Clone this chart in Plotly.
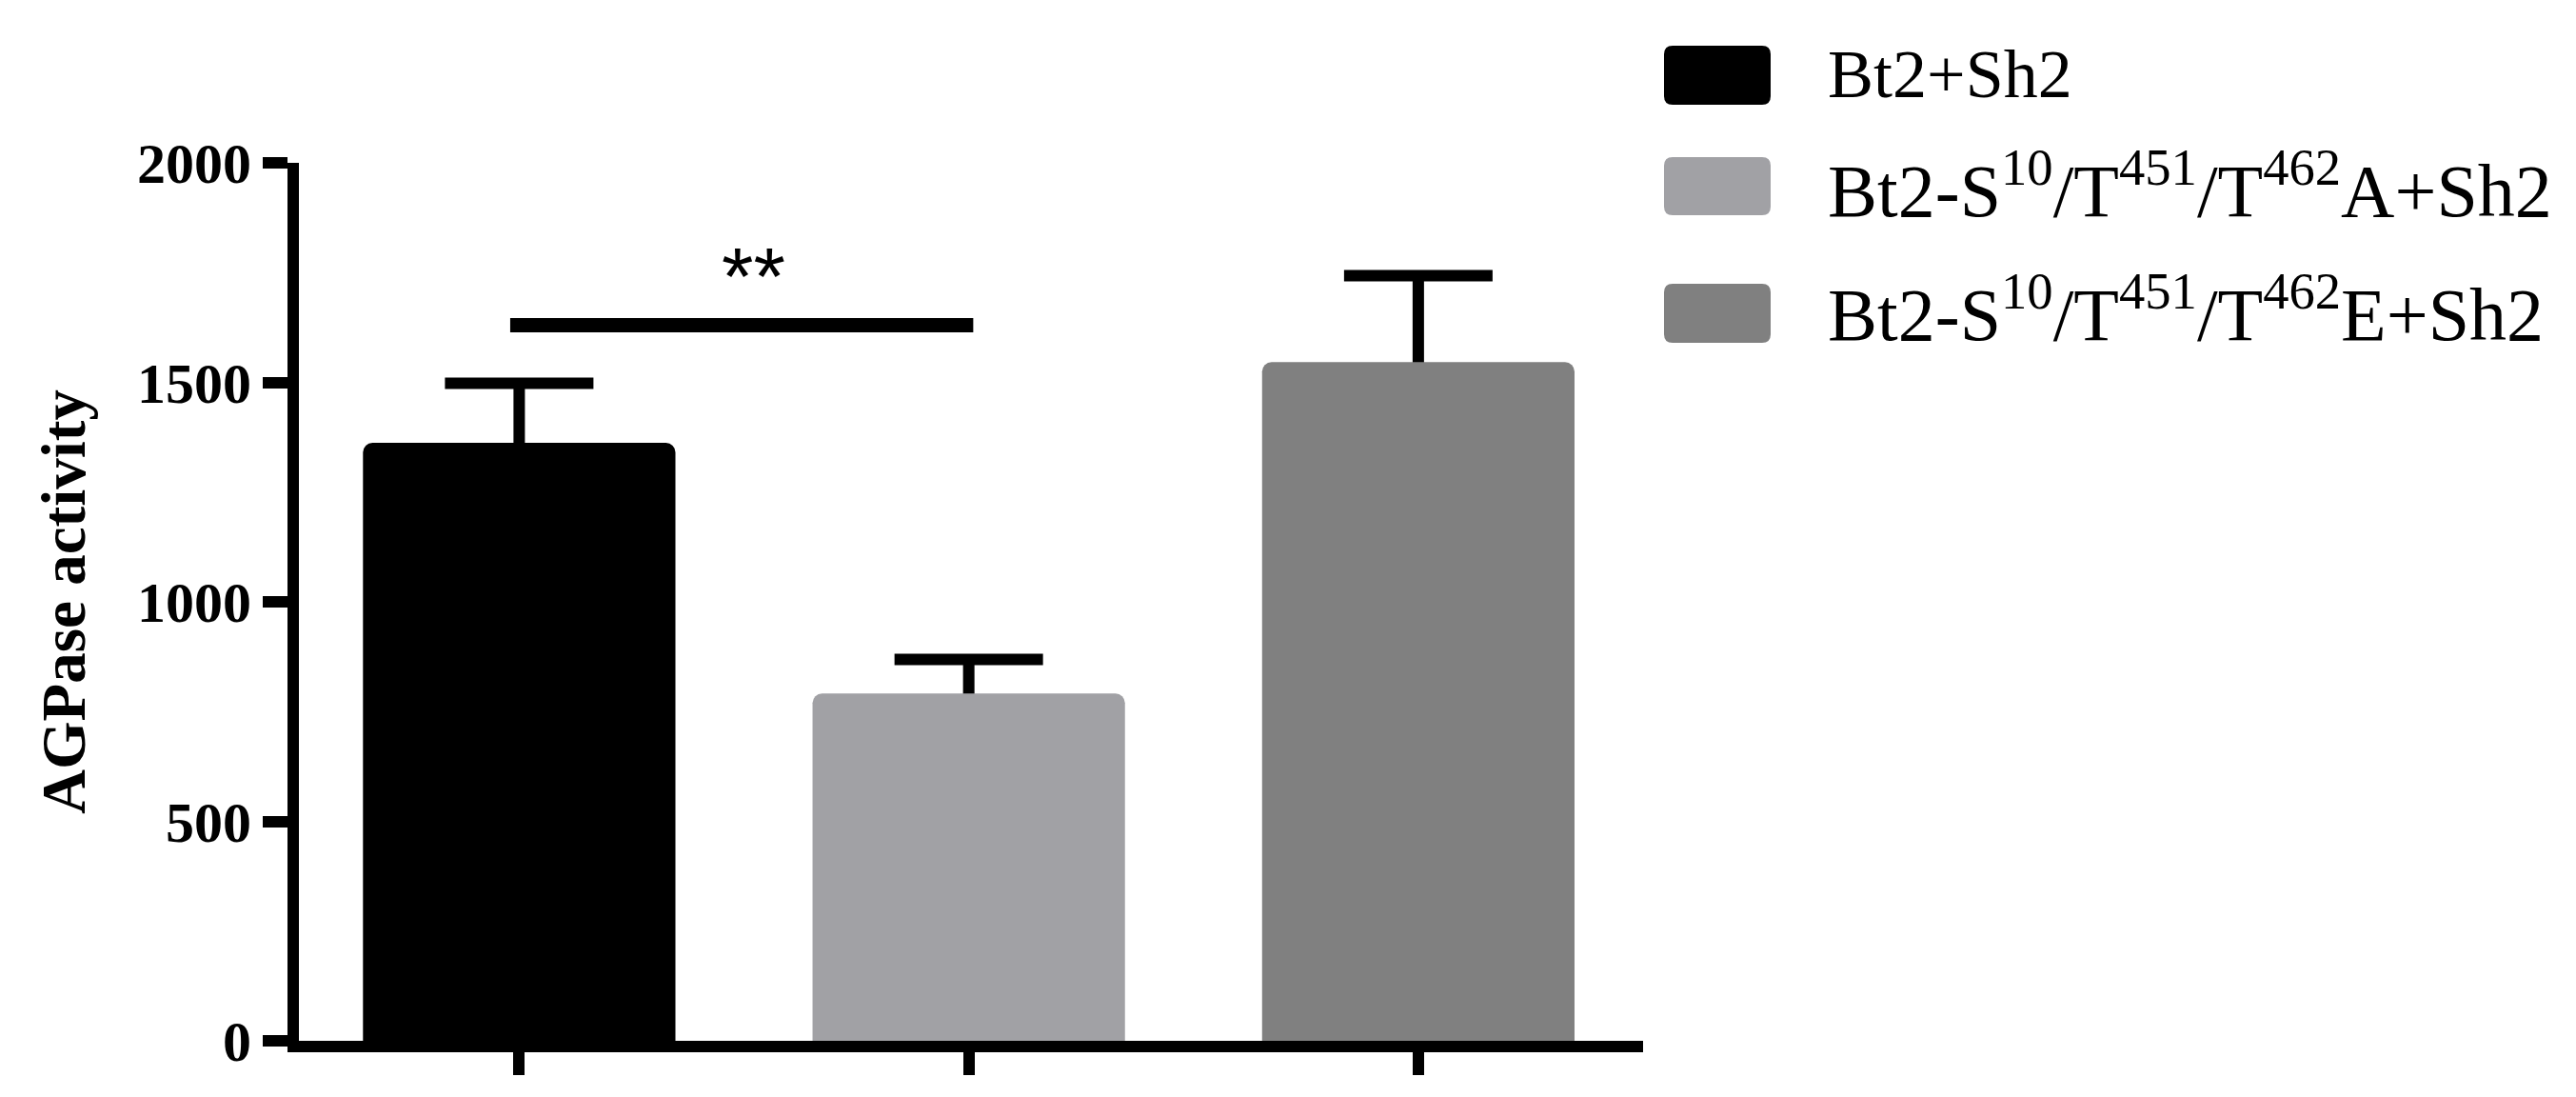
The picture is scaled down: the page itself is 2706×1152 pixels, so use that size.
import plotly.graph_objects as go

# ---------------- data ----------------
categories = [
    "Bt2+Sh2",
    "Bt2-S<sup>10</sup>/T<sup>451</sup>/T<sup>462</sup>A+Sh2",
    "Bt2-S<sup>10</sup>/T<sup>451</sup>/T<sup>462</sup>E+Sh2",
]
means = [1362, 791, 1546]
errors = [136, 78, 197]
colors = ["#000000", "#a1a1a5", "#808080"]
y_ticks = [0, 500, 1000, 1500, 2000]
y_title = "AGPase activity"
sig_pair = [0, 1]
sig_level = 1630
sig_text = "**"

# ---------------- layout geometry (px) ----------------
W, H = 2706, 1152
L, T = 306, 163
PW, PH = 1412, 922
R = W - L - PW
B = H - T - PH
XR = [-0.49, 2.5]


def px_x(p):
    return (p - L) / PW


def px_y(p):
    return (T + PH - p) / PH


fig = go.Figure()

# error bars (drawn first, lower half hidden under the bars)
fig.add_trace(go.Bar(
    x=categories, y=means, width=0.695,
    marker=dict(color="rgba(0,0,0,0)", line=dict(width=0)),
    error_y=dict(type="data", array=errors, symmetric=True,
                 color="#000000", thickness=12, width=78),
    showlegend=False, hoverinfo="skip",
))
# visible bars
fig.add_trace(go.Bar(
    x=categories, y=means, width=0.695,
    marker=dict(color=colors, line=dict(width=0), cornerradius=10),
    showlegend=False,
))

# significance bar
fig.add_shape(type="line", xref="x", yref="y",
              x0=sig_pair[0] - 0.02, x1=sig_pair[1] + 0.01,
              y0=sig_level, y1=sig_level,
              line=dict(color="#000000", width=15))
fig.add_annotation(x=(sig_pair[0] + sig_pair[1]) / 2, y=sig_level, xref="x", yref="y",
                   text=sig_text, showarrow=False, yanchor="middle", yshift=52, xshift=10,
                   font=dict(family="Liberation Sans", size=86, color="#000000"))

# manual legend (large rounded swatches like the original)
sw_x0, sw_x1 = 1740, 1852
sw_rows = [(40, 102), (157, 218), (290, 352)]
text_mid = [70, 186, 316]
text_size = [72, 78, 78]
rpx = 9
for (ya, yb), col, name, tm, fs in zip(sw_rows, colors, categories, text_mid, text_size):
    x0, x1 = px_x(sw_x0), px_x(sw_x1)
    y0, y1 = px_y(yb), px_y(ya)
    rx, ry = rpx / PW, rpx / PH
    path = (f"M{x0+rx},{y0} L{x1-rx},{y0} Q{x1},{y0} {x1},{y0+ry} "
            f"L{x1},{y1-ry} Q{x1},{y1} {x1-rx},{y1} L{x0+rx},{y1} "
            f"Q{x0},{y1} {x0},{y1-ry} L{x0},{y0+ry} Q{x0},{y0} {x0+rx},{y0} Z")
    fig.add_shape(type="path", xref="paper", yref="paper", path=path,
                  fillcolor=col, line=dict(width=0))
    fig.add_annotation(x=px_x(1910), y=px_y(tm), xref="paper", yref="paper",
                       text=name, showarrow=False, xanchor="left", yanchor="middle",
                       font=dict(family="Liberation Serif", size=fs, color="#000000"))

fig.update_layout(
    width=W, height=H,
    margin=dict(l=L, r=R, t=T, b=B, pad=0),
    paper_bgcolor="white", plot_bgcolor="white",
    barmode="overlay",
    showlegend=False,
    xaxis=dict(
        range=XR, showgrid=False, zeroline=False,
        showline=True, linecolor="#000000", linewidth=12,
        ticks="outside", ticklen=24, tickwidth=12, tickcolor="#000000",
        showticklabels=False, automargin=False,
    ),
    yaxis=dict(
        range=[0, 2000], tickvals=y_ticks, showgrid=False, zeroline=False,
        showline=True, linecolor="#000000", linewidth=12,
        ticks="outside", ticklen=26, tickwidth=12, tickcolor="#000000",
        tickfont=dict(family="Liberation Serif", size=60, color="#000000", weight="bold"),
        title=dict(text=y_title, standoff=38,
                   font=dict(family="Liberation Serif", size=65, color="#000000", weight="bold")),
        automargin=False,
    ),
)

fig.write_html("out.html")
